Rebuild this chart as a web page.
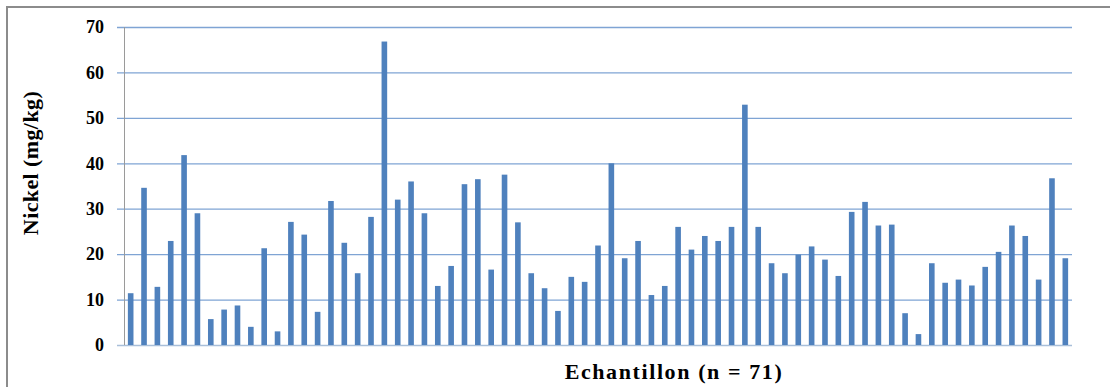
<!DOCTYPE html>
<html>
<head>
<meta charset="utf-8">
<script src="https://cdn.jsdelivr.net/npm/d3@7"></script>
<style>
  body { margin: 0; background: #fff; }
  svg { display: block; }
  .serif { font-family: "Liberation Serif", "Times New Roman", Tinos, "DejaVu Serif", serif; font-weight: bold; }
</style>
</head>
<body>
<div id="chart"></div>
<script>
// nickel content per sample
const samples = d3.range(1, 72);
const nickel = [
    11.4, 34.6, 12.8, 22.9, 41.8, 29.0, 5.7, 7.8, 8.7, 4.0,
    21.3, 3.0, 27.1, 24.3, 7.3, 31.7, 22.5, 15.8, 28.2, 66.8,
    32.0, 36.0, 29.0, 13.0, 17.4, 35.4, 36.5, 16.6, 37.5, 27.0,
    15.8, 12.5, 7.5, 15.0, 13.9, 21.9, 40.0, 19.1, 22.9, 11.0,
    13.0, 26.0, 21.0, 24.0, 22.9, 26.0, 52.9, 26.0, 18.0, 15.8,
    19.9, 21.7, 18.8, 15.2, 29.3, 31.5, 26.3, 26.5, 7.0, 2.4,
    18.0, 13.7, 14.4, 13.1, 17.2, 20.5, 26.3, 24.0, 14.4, 36.7,
    19.1
];
const yTicks = [0, 10, 20, 30, 40, 50, 60, 70];

const width = 1110,
    height = 387,
    margin = { top: 27, right: 38, bottom: 42, left: 124 };

const svg = d3
    .select("#chart")
    .append("svg")
    .attr("width", width)
    .attr("height", height)
    .attr("viewBox", [0, 0, width, height]);

// outer frame (only top and left visible in the crop)
svg.append("rect")
    .attr("x", 7)
    .attr("y", 7)
    .attr("width", width + 20)
    .attr("height", height + 20)
    .attr("fill", "none")
    .attr("stroke", "#8c8c8c")
    .attr("stroke-width", 2);

const x = d3
    .scaleBand()
    .domain(samples)
    .range([margin.left, width - margin.right])
    .paddingInner(0.58)
    .paddingOuter(0.29);

const y = d3
    .scaleLinear()
    .domain([0, 70])
    .range([height - margin.bottom, margin.top]);

// gridlines + tick marks
svg.append("g")
    .selectAll("line")
    .data(yTicks)
    .join("line")
    .attr("x1", margin.left - 7)
    .attr("x2", width - margin.right)
    .attr("y1", (d) => y(d) + 0.5)
    .attr("y2", (d) => y(d) + 0.5)
    .attr("stroke", (d) => (d == 0 ? "#a9bfd9" : "#7fa4d4"))
    .attr("stroke-width", 1.3);

// y axis line
svg.append("line")
    .attr("x1", margin.left + 0.5)
    .attr("x2", margin.left + 0.5)
    .attr("y1", y(70))
    .attr("y2", y(0))
    .attr("stroke", "#9a9a9a")
    .attr("stroke-width", 1);

// tick labels
svg.append("g")
    .selectAll("text")
    .data(yTicks)
    .join("text")
    .attr("class", "serif")
    .attr("x", 104)
    .attr("y", (d) => y(d))
    .attr("dy", "0.35em")
    .attr("text-anchor", "end")
    .style("font-size", "18px")
    .text((d) => d);

// bars
svg.append("g")
    .selectAll("rect")
    .data(nickel)
    .join("rect")
    .attr("x", (d, i) => x(samples[i]))
    .attr("y", (d) => y(d))
    .attr("width", x.bandwidth())
    .attr("height", (d) => y(0) - y(d))
    .attr("fill", "#4f81bd");

// axis titles
svg.append("text")
    .attr("class", "serif")
    .attr("transform", `translate(38,163) rotate(-90)`)
    .attr("text-anchor", "middle")
    .style("font-size", "22px")
    .style("letter-spacing", "0.4px")
    .text("Nickel (mg/kg)");

svg.append("text")
    .attr("class", "serif")
    .attr("x", 674)
    .attr("y", 379)
    .attr("text-anchor", "middle")
    .style("font-size", "22px")
    .style("letter-spacing", "1.6px")
    .text("Echantillon (n = 71)");
</script>
</body>
</html>
